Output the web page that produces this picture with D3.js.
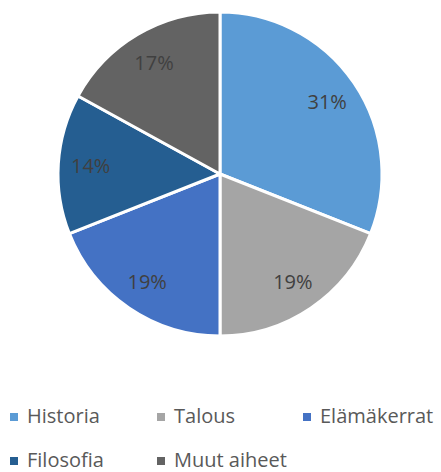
<!DOCTYPE html>
<html>
<head>
<meta charset="utf-8">
<script src="https://cdn.jsdelivr.net/npm/d3@7"></script>
<style>
  body { margin: 0; background: #fff; }
  svg { display: block; font-family: "Open Sans", "Noto Sans", sans-serif; }
</style>
</head>
<body>
<svg id="canvas" width="441" height="472"></svg>
<script>
let categories = ['Historia', 'Talous', 'Elämäkerrat', 'Filosofia', 'Muut aiheet']
let shares = [31, 19, 19, 14, 17]
let colors = ['#5B9BD5', '#A5A5A5', '#4472C4', '#255E91', '#636363']

let canvas = d3.select('#canvas')

let cx = 220, cy = 174, radius = 162

let slices = categories.map((name, i) => {
    return { name: name, value: shares[i], color: colors[i] }
})

let pie = d3.pie()
    .value((d) => d.value)
    .sort(null)

let arc = d3.arc()
    .innerRadius(0)
    .outerRadius(radius)

let labelArc = d3.arc()
    .innerRadius(radius * 0.8)
    .outerRadius(radius * 0.8)

let pieGroup = canvas.append('g')
    .attr('transform', 'translate(' + cx + ', ' + cy + ')')

let arcs = pie(slices)

pieGroup.selectAll('path')
    .data(arcs)
    .enter()
    .append('path')
    .attr('d', arc)
    .attr('fill', (d) => d.data.color)
    .attr('stroke', '#fff')
    .attr('stroke-width', 3)
    .attr('stroke-linejoin', 'round')

pieGroup.selectAll('text')
    .data(arcs)
    .enter()
    .append('text')
    .attr('x', (d) => labelArc.centroid(d)[0])
    .attr('y', (d) => labelArc.centroid(d)[1])
    .attr('text-anchor', 'middle')
    .attr('dominant-baseline', 'central')
    .attr('fill', '#404040')
    .style('font-size', '20px')
    .text((d) => d.data.value + '%')

// legend, two rows like the original
let legendX = [10, 157, 303, 10, 157]
let legendY = [423, 423, 423, 467, 467]

let legend = canvas.selectAll('g.legend')
    .data(slices)
    .enter()
    .append('g')
    .attr('class', 'legend')
    .attr('transform', (d, i) => 'translate(' + legendX[i] + ', ' + legendY[i] + ')')

legend.append('rect')
    .attr('x', 0)
    .attr('y', -10)
    .attr('width', 8)
    .attr('height', 8)
    .attr('fill', (d) => d.color)

legend.append('text')
    .attr('x', 17)
    .attr('y', 0)
    .attr('fill', '#595959')
    .style('font-size', '20px')
    .text((d) => d.name)
</script>
</body>
</html>
